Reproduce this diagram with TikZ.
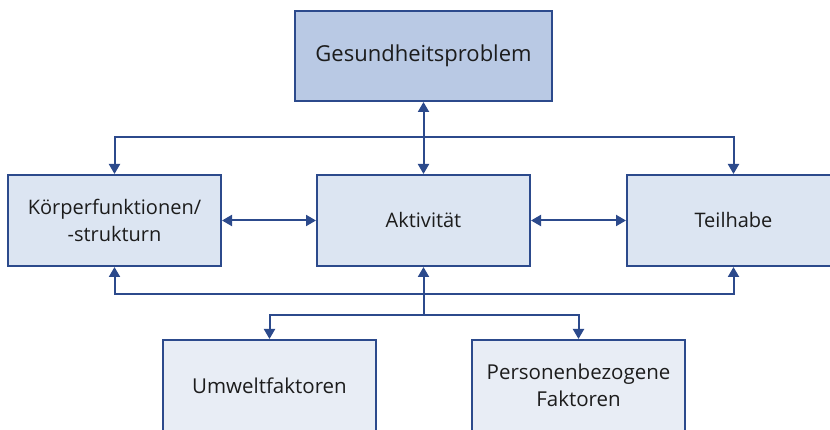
\documentclass[tikz,border=0pt]{standalone}
\usepackage{fontspec}
\setmainfont{Open Sans}
\usetikzlibrary{arrows.meta}
\definecolor{bordc}{HTML}{2C4A8C}
\definecolor{topc}{HTML}{B9C9E4}
\definecolor{midc}{HTML}{DCE5F2}
\definecolor{botc}{HTML}{E8EDF5}
\definecolor{txtc}{HTML}{1C1C1C}
\tikzset{
  boxbase/.style={draw=bordc, line width=2pt, rectangle, align=center, text=txtc, minimum width=213pt, minimum height=91pt, inner sep=0pt},
  topbox/.style={boxbase, fill=topc, minimum width=257pt, minimum height=90pt, font=\fontsize{22}{26}\selectfont},
  midbox/.style={boxbase, fill=midc, font=\fontsize{20}{27}\selectfont},
  botbox/.style={boxbase, fill=botc, font=\fontsize{20.5}{27}\selectfont},
  conn/.style={draw=bordc, line width=2pt, arrows={-Triangle[length=10pt,width=11pt]}},
  bconn/.style={draw=bordc, line width=2pt, arrows={Triangle[length=10pt,width=11pt]-Triangle[length=10pt,width=11pt]}}
}
\begin{document}
\begin{tikzpicture}[x=1pt,y=-1pt]
\useasboundingbox (0,0) rectangle (830,430);
\clip (0,0) rectangle (830,430);
\node[topbox] (top) at (423.5,56) {Gesundheitsproblem};
\node[midbox] (kf) at (114.5,220.5) {Körperfunktionen/\\-strukturn};
\node[midbox] (akt) at (423.5,220.5) {Aktivität};
\node[midbox] (teil) at (733.5,220.5) {Teilhabe};
\node[botbox] (umw) at (269.5,385.5) {Umweltfaktoren};
\node[botbox] (pers) at (578.5,385.5) {Personenbezogene\\Faktoren};
\draw[bconn] (top.south) -- (akt.north);
\draw[bconn] (kf.north) -- ++(0,-37) -| (teil.north);
\draw[bconn] (kf.south) -- ++(0,27) -| (teil.south);
\draw[bconn] (kf.east) -- (akt.west);
\draw[bconn] (akt.east) -- (teil.west);
\draw[bconn] (umw.north) -- ++(0,-24) coordinate (ul) -| (pers.north);
\draw[conn] (ul -| akt.south) -- (akt.south);
\end{tikzpicture}
\end{document}
